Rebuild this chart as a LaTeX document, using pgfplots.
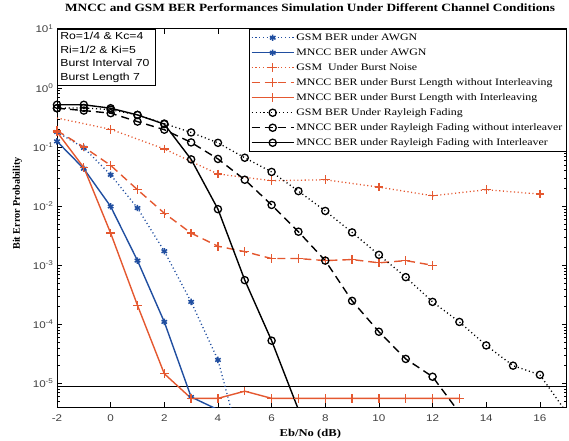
\documentclass[border=0pt]{standalone}
\usepackage{fontspec}
\setmainfont{Liberation Serif}
\newfontfamily\wideserif[FakeStretch=1.2]{Liberation Serif}
\newfontfamily\widesans[FakeStretch=1.2]{Liberation Sans}
\usepackage{pgfplots}
\pgfplotsset{compat=1.18}
\definecolor{mblue}{RGB}{32,78,160}
\definecolor{morange}{RGB}{228,88,48}
\begin{document}
\begin{tikzpicture}
\useasboundingbox (-57bp,-33.7bp) rectangle (512bp,407.3bp);
\begin{axis}[
  width=509.7bp, height=378.4bp, scale only axis,
  xmin=-2, xmax=17, ymode=log, ymin=3.95e-6, ymax=10,
  xtick={-2,0,2,4,6,8,10,12,14,16},
  xticklabels={-2,0,2,4,6,8,10,12,14,16},
  ytick={1e-5,1e-4,1e-3,1e-2,1e-1,1,10},
  yticklabels={10\textsuperscript{-5},10\textsuperscript{-4},10\textsuperscript{-3},10\textsuperscript{-2},10\textsuperscript{-1},10\textsuperscript{0},10\textsuperscript{1}},
  minor ytick={4e-6,5e-6,6e-6,7e-6,8e-6,9e-6,
    2e-5,3e-5,4e-5,5e-5,6e-5,7e-5,8e-5,9e-5,
    2e-4,3e-4,4e-4,5e-4,6e-4,7e-4,8e-4,9e-4,
    2e-3,3e-3,4e-3,5e-3,6e-3,7e-3,8e-3,9e-3,
    2e-2,3e-2,4e-2,5e-2,6e-2,7e-2,8e-2,9e-2,
    0.2,0.3,0.4,0.5,0.6,0.7,0.8,0.9,2,3,4,5,6,7,8,9},
  tick label style={font=\widesans\fontsize{9.7bp}{11bp}\selectfont, text=black!75},
  xticklabel style={yshift=-4bp},
  tick align=inside, tick pos=both,
  major tick length=5bp, minor tick length=3bp,
  every tick/.style={black, line width=0.5bp},
  axis line style={line width=0.9bp},
  title={MNCC and GSM BER Performances Simulation Under Different Channel Conditions},
  title style={font=\wideserif\bfseries\fontsize{11.1bp}{13bp}\selectfont, at={(axis description cs:0.4965,1.0412)}, anchor=center},
  xlabel={Eb/No (dB)},
  xlabel style={font=\wideserif\bfseries\fontsize{10.5bp}{12bp}\selectfont, at={(axis description cs:0.497,-0.0706)}, anchor=center},
  ylabel={Bit Error Probability},
  ylabel style={font=\bfseries\fontsize{10.2bp}{12bp}\selectfont, at={(axis description cs:-0.0775,0.5386)}, anchor=center},
  legend style={at={(axis description cs:1,1)}, anchor=north east, draw=black, line width=0.7bp, fill=white,
    font=\wideserif\fontsize{9.9bp}{11bp}\selectfont, row sep=0pt, inner xsep=2bp, inner ysep=1bp,
    nodes={inner ysep=2bp, text height=8bp, text depth=3bp}},
  legend cell align=left,
  legend image code/.code={\draw[mark repeat=2,mark phase=2,#1] plot coordinates {(0bp,0bp) (21bp,0bp) (42bp,0bp)};},
]
\addplot[black, line width=0.6bp, forget plot] coordinates {(-2,9e-6) (17,9e-6)};
\addplot[morange, line width=1.3bp, dash pattern=on 1.1bp off 2.6bp, forget plot]
 coordinates {(-2,0.31) (0,0.2)};

\addplot[mblue, line width=1.3bp, dash pattern=on 1.1bp off 2.6bp, mark=asterisk, mark size=3.2bp, mark options={solid, line width=1.5bp}]
 coordinates {(-2,0.18) (-1,0.097) (0,0.034) (1,9.3e-3) (2,1.73e-3) (3,2.4e-4) (4,2.5e-5) (5,5e-7)};
\addlegendentry{GSM BER under AWGN}

\addplot[mblue, line width=1.4bp, mark=asterisk, mark size=3.2bp, mark options={solid, line width=1.5bp}]
 coordinates {(-2,0.125) (-1,0.043) (0,0.0099) (1,1.2e-3) (2,1.1e-4) (3,5.9e-6) (4,3.6e-6)};
\addlegendentry{MNCC BER under AWGN}

\addplot[morange, line width=1.3bp, dash pattern=on 1.1bp off 2.6bp, mark=+, mark size=4.3bp, mark options={solid, line width=1.3bp}]
 coordinates {(0,0.2) (2,0.093) (4,0.035) (6,0.027) (8,0.028) (10,0.021) (12,0.015) (14,0.019) (16,0.016)};
\addlegendentry{GSM\ \ Under Burst Noise}

\addplot[morange, line width=1.4bp, dash pattern=on 8bp off 5bp, mark=+, mark size=4.3bp, mark options={solid, line width=1.3bp}]
 coordinates {(-2,0.19) (-1,0.10) (0,0.049) (1,0.019) (2,7.6e-3) (3,3.5e-3) (4,2.1e-3) (5,1.7e-3) (6,1.3e-3) (7,1.3e-3) (8,1.2e-3) (9,1.25e-3) (10,1.1e-3) (11,1.2e-3) (12,1.0e-3)};
\addlegendentry{MNCC BER under Burst Length without Interleaving}

\addplot[morange, line width=1.4bp, mark=+, mark size=4.3bp, mark options={solid, line width=1.3bp}]
 coordinates {(-2,0.18) (-1,0.045) (0,3.5e-3) (1,2.1e-4) (2,1.46e-5) (3,5.6e-6) (4,5.6e-6) (5,7.4e-6) (6,5.6e-6) (7,5.6e-6) (8,5.6e-6) (9,5.6e-6) (10,5.6e-6) (11,5.6e-6) (12,5.6e-6) (13,5.6e-6)};
\addlegendentry{MNCC BER under Burst Length with Interleaving}

\addplot[black, line width=1.3bp, dash pattern=on 1.1bp off 2.8bp, mark=o, mark size=3.6bp, mark options={solid, line width=1.3bp}]
 coordinates {(-2,0.455) (-1,0.46) (0,0.43) (1,0.35) (2,0.25) (3,0.177) (4,0.118) (5,0.066) (6,0.038) (7,0.018) (8,8.3e-3) (9,3.6e-3) (10,1.5e-3) (11,6.3e-4) (12,2.4e-4) (13,1.1e-4) (14,4.4e-5) (15,2.0e-5) (16,1.4e-5) (17,3.2e-6)};
\addlegendentry{GSM BER Under Rayleigh Fading}

\addplot[black, line width=1.4bp, dash pattern=on 8bp off 5bp, mark=o, mark size=3.6bp, mark options={solid, line width=1.3bp}]
 coordinates {(-2,0.455) (-1,0.415) (0,0.375) (1,0.27) (2,0.197) (3,0.12) (4,0.063) (5,0.028) (6,0.0105) (7,3.7e-3) (8,1.2e-3) (9,2.5e-4) (10,7.5e-5) (11,2.6e-5) (12,1.3e-5) (13,3.2e-6)};
\addlegendentry{MNCC BER under Rayleigh Fading without interleaver}

\addplot[black, line width=1.4bp, mark=o, mark size=3.6bp, mark options={solid, line width=1.3bp}]
 coordinates {(-2,0.52) (-1,0.52) (0,0.455) (1,0.35) (2,0.245) (3,0.062) (4,8.9e-3) (5,5.6e-4) (6,5.3e-5) (7,3.6e-6)};
\addlegendentry{MNCC BER under Rayleigh Fading with Interleaver}

\node[draw=black, line width=0.7bp, fill=white, anchor=north west, inner xsep=3bp, inner ysep=3bp,
  text width=92bp, align=left, font=\widesans\fontsize{10.2bp}{13.6bp}\selectfont]
  at (axis description cs:0,1) {Ro=1/4 \& Kc=4\\Ri=1/2 \& Ki=5\\Burst Interval 70\\Burst Length 7};
\end{axis}
\end{tikzpicture}
\end{document}
